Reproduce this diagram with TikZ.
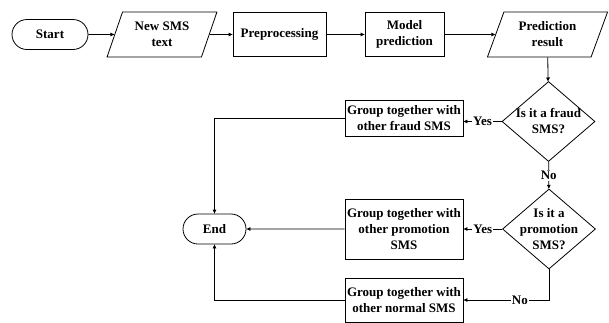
\documentclass[tikz,border=0pt]{standalone}
\usepackage{fontspec}
\setmainfont{Liberation Serif}
\usetikzlibrary{shapes.geometric,shapes.misc,arrows.meta}
\begin{document}
\begin{tikzpicture}[x=1pt,y=-1pt,
  tfont/.style={font=\bfseries\fontsize{13}{16}\selectfont},
  base/.style={draw, line width=0.8pt, tfont, align=center, inner sep=1pt},
  term/.style={base, rounded rectangle, minimum height=30pt},
  io/.style={base, trapezium, trapezium left angle=67.5, trapezium right angle=112.5, trapezium stretches=true, minimum height=45pt},
  proc/.style={base, rectangle},
  dia/.style={draw, line width=0.8pt, diamond, minimum width=93pt, minimum height=80pt, inner sep=0pt},
  txt/.style={tfont, align=center, inner sep=0pt},
  lab/.style={tfont, fill=white, inner sep=1pt},
  arr/.style={line width=0.8pt, -{Triangle[length=4pt,width=3.5pt]}},
  ]
\useasboundingbox (0,0) rectangle (609,322);
\fill[white] (0,0) rectangle (609,322);
\node[term, minimum width=78pt] (start) at (50,34.5) {Start};
\node[io, minimum width=110pt] (sms) at (162,34.5) {New SMS\\text};
\node[proc, minimum width=93pt, minimum height=44pt] (prep) at (279.5,34.5) {Preprocessing};
\node[proc, minimum width=79pt, minimum height=44pt] (model) at (404.5,34.5) {Model\\prediction};
\node[io, minimum width=121pt] (res) at (547.5,34.5) {Prediction\\result};
\node[dia] (d1) at (548.5,121.5) {};
\node[txt] (d1t) at (d1) {Is it a fraud\\SMS?};
\node[proc, minimum width=118pt, minimum height=36pt] (fraud) at (404,118) {Group together with\\other fraud SMS};
\node[term, minimum width=65pt] (end) at (214.5,229) {End};
\node[dia] (d2) at (549,229) {};
\node[txt] (d2t) at (d2) {Is it a\\promotion\\SMS?};
\node[proc, minimum width=118pt, minimum height=60pt] (promo) at (404,229) {Group together with\\other promotion\\SMS};
\node[proc, minimum width=118pt, minimum height=44pt] (normal) at (404,300) {Group together with\\other normal SMS};

\draw[arr] (start) -- (sms);
\draw[arr] (sms) -- (prep);
\draw[arr] (prep) -- (model);
\draw[arr] (model) -- (res);
\draw[arr] (res) -- (d1);
\draw[arr] (d1.west) -- node[lab]{Yes} (d1.west -| fraud.east);
\draw[arr] (fraud.west) -| (end.north);
\draw[arr] (d1) -- node[lab]{No} (d2);
\draw[arr] (d2) -- node[lab]{Yes} (promo);
\draw[arr] (promo) -- (end);
\draw[arr] (d2.south) |- node[lab, pos=0.67]{No} (normal.east);
\draw[arr] (normal.west) -| (end.south);
\end{tikzpicture}
\end{document}
